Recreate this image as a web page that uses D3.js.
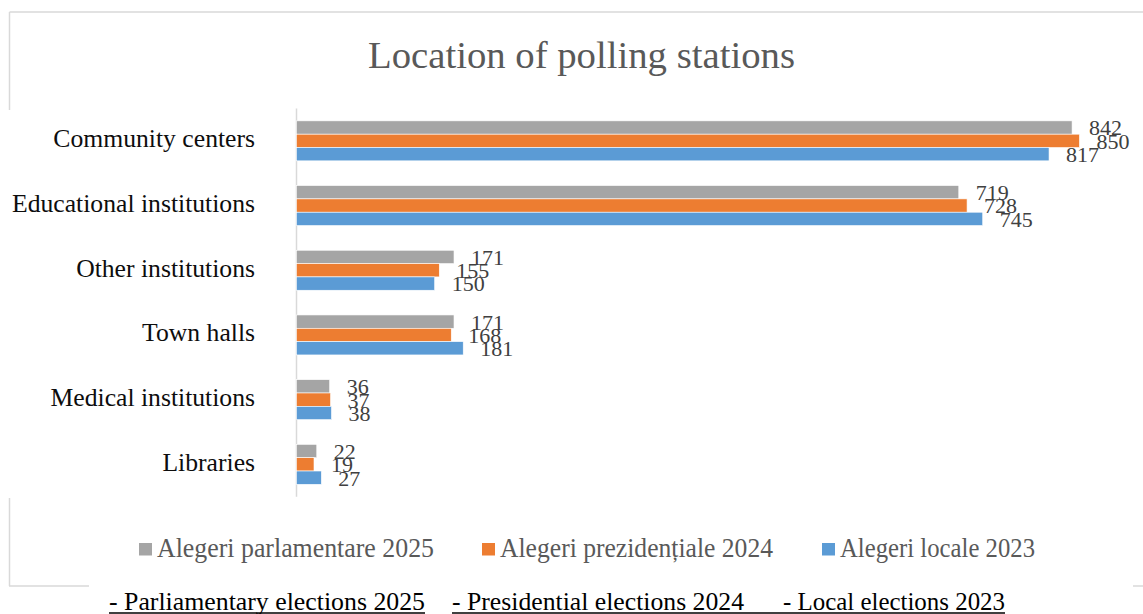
<!DOCTYPE html>
<html>
<head>
<meta charset="utf-8">
<script src="https://cdn.jsdelivr.net/npm/d3@7"></script>
<style>
  html, body { margin: 0; padding: 0; background: #fff; }
  svg { display: block; }
  text { font-family: "Liberation Serif", "DejaVu Serif", serif; }
</style>
</head>
<body>
<svg id="chart" width="1143" height="614"></svg>
<script>
// Polling station locations by election
const categories = ["Community centers", "Educational institutions", "Other institutions",
                    "Town halls", "Medical institutions", "Libraries"];
const parlamentare2025 = [842, 719, 171, 171, 36, 22];
const prezidentiale2024 = [850, 728, 155, 168, 37, 19];
const locale2023 = [817, 745, 150, 181, 38, 27];

const seriesNames = ["Alegeri parlamentare 2025", "Alegeri prezidențiale 2024", "Alegeri locale 2023"];
const seriesColors = ["#A5A5A5", "#ED7D31", "#5B9BD5"];
const captionParts = ["- Parliamentary elections 2025", "- Presidential elections 2024", "- Local elections 2023"];
const xMax = 900;

const series = [parlamentare2025, prezidentiale2024, locale2023];
const seriesKeys = ["p25", "z24", "l23"];
const rows = categories.map((c, i) => ({ category: c, p25: series[0][i], z24: series[1][i], l23: series[2][i] }));

const svg = d3.select("#chart");
const W = 1143, H = 614;
svg.append("rect").attr("width", W).attr("height", H).attr("fill", "#fff");

// chart frame (partly hidden behind surrounding page content)
const frame = svg.append("g").attr("stroke", "#d9d9d9").attr("stroke-width", 1.5).attr("fill", "none");
frame.append("line").attr("x1", 9.5).attr("x2", W).attr("y1", 12).attr("y2", 12);
frame.append("line").attr("x1", 9.5).attr("x2", 9.5).attr("y1", 12).attr("y2", 110);
frame.append("line").attr("x1", 9.5).attr("x2", 9.5).attr("y1", 498).attr("y2", 586);
frame.append("line").attr("x1", 9).attr("x2", 89).attr("y1", 586).attr("y2", 586);
frame.append("line").attr("x1", 1133).attr("x2", W).attr("y1", 586).attr("y2", 586);

// title
svg.append("text")
  .attr("x", 368).attr("y", 67.5)
  .attr("font-size", 37).attr("fill", "#595959")
  .attr("textLength", 427).attr("lengthAdjust", "spacingAndGlyphs")
  .text("Location of polling stations");

// plot area
const plot = { left: 296.5, right: 1125.5, top: 108.5, bottom: 496.7 };

const x = d3.scaleLinear().domain([0, xMax]).range([plot.left, plot.right]);
const y = d3.scaleBand().domain(categories).range([plot.top, plot.bottom])
  .paddingInner(0.382).paddingOuter(0.191);
const ySub = d3.scaleBand().domain(seriesKeys).range([0, y.bandwidth()]);
const color = d3.scaleOrdinal().domain(seriesKeys).range(seriesColors);

// category axis
const yAxis = svg.append("g")
  .attr("transform", `translate(${plot.left},0)`)
  .call(d3.axisLeft(y).tickSize(0).tickPadding(41.5));
yAxis.select(".domain").attr("stroke", "#d9d9d9").attr("stroke-width", 1.5)
  .attr("d", `M0,${plot.top}V${plot.bottom}`);
yAxis.selectAll(".tick text")
  .attr("font-family", "\"Liberation Serif\", serif")
  .attr("font-size", 25).attr("fill", "#0d0d0d")
  .attr("dy", "0.26em");

// condense category labels uniformly so the longest fits its column
(function () {
  const ticks = yAxis.selectAll(".tick text").nodes();
  const ref = ticks.find(n => n.textContent === "Educational institutions");
  const k = 243 / ref.getComputedTextLength();
  ticks.forEach(n => {
    n.setAttribute("textLength", n.getComputedTextLength() * k);
    n.setAttribute("lengthAdjust", "spacingAndGlyphs");
  });
})();

// bars
const groups = svg.append("g").selectAll("g")
  .data(rows).join("g")
  .attr("transform", d => `translate(0,${y(d.category)})`);

groups.selectAll("rect")
  .data(d => seriesKeys.map(k => ({ key: k, value: d[k] })))
  .join("rect")
  .attr("x", x(0))
  .attr("y", d => ySub(d.key))
  .attr("width", d => x(d.value) - x(0))
  .attr("height", ySub.bandwidth())
  .attr("fill", d => color(d.key))
  .attr("stroke", "#fff").attr("stroke-width", 0.6);

// value labels
groups.selectAll("text.val")
  .data(d => seriesKeys.map(k => ({ key: k, value: d[k] })))
  .join("text")
  .attr("class", "val")
  .attr("x", d => x(d.value) + 17)
  .attr("y", d => ySub(d.key) + ySub.bandwidth() / 2)
  .attr("dy", "0.36em")
  .attr("font-size", 22).attr("fill", "#404040")
  .text(d => d.value);

// legend
const legendItems = [
  { sx: 139, tx: 157, w: 277 },
  { sx: 482, tx: 500, w: 273 },
  { sx: 822, tx: 840, w: 195 }
];
const legend = svg.append("g");
legendItems.forEach((it, i) => {
  legend.append("rect")
    .attr("x", it.sx).attr("y", 543).attr("width", 13).attr("height", 12.5)
    .attr("fill", seriesColors[i]);
  legend.append("text")
    .attr("x", it.tx).attr("y", 557)
    .attr("font-size", 26.5).attr("fill", "#595959")
    .attr("textLength", it.w).attr("lengthAdjust", "spacingAndGlyphs")
    .text(seriesNames[i]);
});

// caption below the chart
const captionItems = [
  { x: 109, w: 316 },
  { x: 452, w: 292 },
  { x: 783, w: 222 }
];
const cap = svg.append("g");
captionItems.forEach((it, i) => {
  cap.append("text")
    .attr("x", it.x).attr("y", 610)
    .attr("font-size", 24.5).attr("fill", "#000")
    .attr("textLength", it.w).attr("lengthAdjust", "spacingAndGlyphs")
    .text(captionParts[i]);
});
cap.append("line").attr("x1", 109).attr("x2", 425).attr("y1", 613).attr("y2", 613)
  .attr("stroke", "#000").attr("stroke-width", 1.3);
cap.append("line").attr("x1", 452).attr("x2", 1005).attr("y1", 613).attr("y2", 613)
  .attr("stroke", "#000").attr("stroke-width", 1.3);
</script>
</body>
</html>
